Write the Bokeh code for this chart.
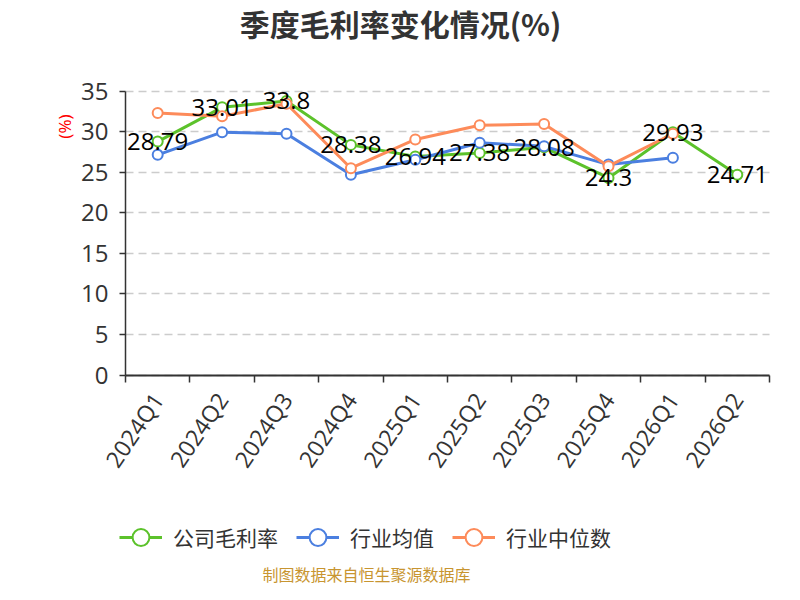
import math
from bokeh.plotting import figure
from bokeh.models import (Range1d, FixedTicker, Label, LabelSet, ColumnDataSource,
                          Legend, LegendItem)
from bokeh.core.properties import value
from bokeh.embed import file_html
from bokeh.resources import INLINE

quarters = ["2024Q1", "2024Q2", "2024Q3", "2024Q4", "2025Q1",
            "2025Q2", "2025Q3", "2025Q4", "2026Q1", "2026Q2"]
company = [28.79, 33.01, 33.8, 28.38, 26.94, 27.38, 28.08, 24.3, 29.93, 24.71]
industry_avg = [27.15, 29.95, 29.75, 24.7, 26.55, 28.65, 28.2, 25.95, 26.8, float("nan")]
industry_median = [32.3, 31.9, 33.45, 25.5, 29.05, 30.8, 30.95, 25.75, 29.75, float("nan")]
y_ticks = [0, 5, 10, 15, 20, 25, 30, 35]
series_names = ["公司毛利率", "行业均值", "行业中位数"]
title_text = "季度毛利率变化情况(%)"
unit_text = "(%)"
source_text = "制图数据来自恒生聚源数据库"

colors = ["#5cc22b", "#4b7fe0", "#fd8b5a"]

n = len(quarters)
xc = [i + 0.5 for i in range(n)]
bounds = [i for i in range(n + 1)]

# layout (canvas pixels): the frame covers the whole canvas, the plot area sits inside it
W, H = 784, 584
X_LEFT_PX, X_RIGHT_PX = 125, 769
Y_TOP_PX, Y_ZERO_PX = 90.7, 374.5
ymax_tick = y_ticks[-1]
ky = (Y_ZERO_PX - Y_TOP_PX) / ymax_tick
kx = (X_RIGHT_PX - X_LEFT_PX) / n
y_end = ymax_tick + Y_TOP_PX / ky
y_start = -(H - Y_ZERO_PX) / ky
x_start = -X_LEFT_PX / kx
x_end = n + (W - X_RIGHT_PX) / kx

p = figure(width=W, height=H, output_backend="svg", toolbar_location=None,
           x_range=Range1d(x_start, x_end), y_range=Range1d(y_start, y_end),
           min_border=0, min_border_left=0, min_border_right=0,
           min_border_top=0, min_border_bottom=0)
p.outline_line_color = None
p.background_fill_color = "white"
p.border_fill_color = "white"

p.xgrid.grid_line_color = None
yg = p.ygrid[0]
yg.grid_line_color = "#cccccc"
yg.grid_line_dash = "8 5"
yg.grid_line_width = 1.3
yg.bounds = (5, ymax_tick)
if "cross_bounds" in yg.properties():
    yg.cross_bounds = (0, n)
else:
    yg.grid_line_color = None
    p.segment(x0=[0] * (len(y_ticks) - 1), x1=[n] * (len(y_ticks) - 1),
              y0=y_ticks[1:], y1=y_ticks[1:], line_color="#cccccc",
              line_dash="8 5", line_width=1.3)

ya = p.yaxis[0]
ya.fixed_location = 0
ya.ticker = FixedTicker(ticks=y_ticks)
ya.bounds = (0, ymax_tick)
ya.axis_line_color = "#333333"
ya.axis_line_width = 1.5
ya.major_tick_line_color = "#333333"
ya.major_tick_line_width = 1.5
ya.major_tick_out = 6
ya.major_tick_in = 0
ya.minor_tick_line_color = None
ya.major_label_text_font = "Open Sans"
ya.major_label_text_font_size = "24px"
ya.major_label_text_color = "#333333"
ya.major_label_standoff = 11

xa = p.xaxis[0]
xa.fixed_location = 0
xa.bounds = (0, n)
xa.ticker = FixedTicker(ticks=xc, minor_ticks=bounds)
xa.axis_line_color = "#333333"
xa.axis_line_width = 2
xa.major_tick_line_color = None
xa.major_tick_out = 0
xa.major_tick_in = 0
xa.minor_tick_line_color = "#333333"
xa.minor_tick_line_width = 1.5
xa.minor_tick_out = 7
xa.minor_tick_in = 0
xa.major_label_overrides = {x: q for x, q in zip(xc, quarters)}
xa.major_label_orientation = math.radians(56)
xa.major_label_text_font = "Open Sans"
xa.major_label_text_font_size = "23px"
xa.major_label_text_color = "#333333"
xa.major_label_standoff = 13

items = []
for name, vals, col in zip(series_names, [company, industry_avg, industry_median], colors):
    src = ColumnDataSource(dict(x=xc, y=vals))
    ln = p.line("x", "y", source=src, line_color=col, line_width=3)
    sc = p.scatter("x", "y", source=src, size=10, fill_color="white",
                   line_color=col, line_width=2)
    items.append(LegendItem(label=name, renderers=[ln, sc]))

lab_src = ColumnDataSource(dict(x=xc, y=company, t=[f"{v:g}" for v in company]))
p.add_layout(LabelSet(x="x", y="y", text="t", source=lab_src, text_align="center",
                      text_baseline="middle", text_font=value("Open Sans"),
                      text_font_size="24px", text_color="#000000"))

legend = Legend(items=items, orientation="horizontal", location=(119, 26),
                glyph_width=43, glyph_height=42, label_standoff=11, spacing=18,
                padding=0, margin=0, border_line_color=None,
                background_fill_alpha=0, label_text_font="Noto Sans CJK SC",
                label_text_font_size="21px", label_text_color="#333333")
p.add_layout(legend, "center")

p.add_layout(Label(x=400, y=22, x_units="canvas", y_units="canvas", text=title_text,
                   text_align="center", text_baseline="middle", text_font="Noto Sans CJK SC",
                   text_font_size="30px", text_font_style="bold", text_color="#333333"))
p.add_layout(Label(x=64, y=126, x_units="canvas", y_units="canvas", text=unit_text,
                   angle=math.pi / 2, text_align="center", text_baseline="middle",
                   text_font="Noto Sans", text_font_size="17px", text_color="#ff0000"))
p.add_layout(Label(x=366, y=573, x_units="canvas", y_units="canvas", text=source_text,
                   text_align="center", text_baseline="middle", text_font="Noto Sans CJK SC",
                   text_font_size="16px", text_color="#c89530"))

open("out.html", "w").write(file_html(p, INLINE))
